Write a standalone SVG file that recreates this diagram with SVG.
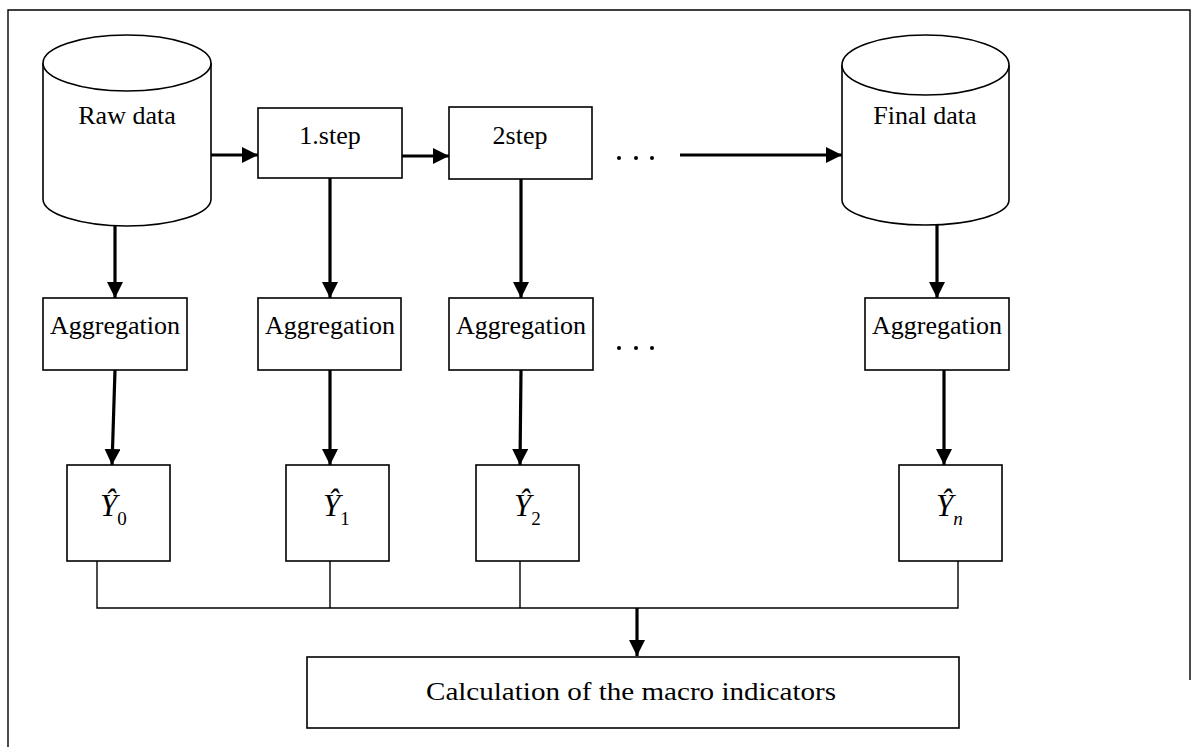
<svg xmlns="http://www.w3.org/2000/svg" width="1199" height="747" viewBox="0 0 1199 747">
<defs>
<style>
.box{fill:#fff;stroke:#000;stroke-width:1.6}
.cyl{fill:#fff;stroke:#000;stroke-width:1.6}
.t{font-family:"Liberation Serif","Times New Roman",serif;font-size:26px;fill:#000;text-anchor:middle}
.y{font-family:"Liberation Serif","Times New Roman",serif;font-size:31px;font-style:italic;fill:#000}
.arr{stroke:#000;stroke-width:3.2;fill:none;marker-end:url(#ah)}
.thin{stroke:#000;stroke-width:1.4;fill:none}
</style>
<marker id="ah" markerUnits="userSpaceOnUse" markerWidth="17" markerHeight="17" refX="16" refY="8" orient="auto">
<path d="M0,0 L16,8 L0,16 Z" fill="#000"/>
</marker>
</defs>
<rect width="1199" height="747" fill="#fff"/>
<path id="frame" d="M8,747 V10 H1190 V680" fill="none" stroke="#000" stroke-width="1.4"/>

<g id="connectors">
<line class="arr" x1="211" y1="155" x2="258" y2="155"/>
<line class="arr" x1="402" y1="156" x2="449" y2="156"/>
<line class="arr" x1="680" y1="155" x2="842" y2="155"/>
<line class="arr" x1="115" y1="226" x2="115" y2="298"/>
<line class="arr" x1="330" y1="178" x2="330" y2="298"/>
<line class="arr" x1="521" y1="179" x2="521" y2="298"/>
<line class="arr" x1="937" y1="225" x2="937" y2="298"/>
<line class="arr" x1="115" y1="370" x2="112" y2="465"/>
<line class="arr" x1="330" y1="370" x2="330" y2="465"/>
<line class="arr" x1="521" y1="370" x2="520" y2="465"/>
<line class="arr" x1="944" y1="370" x2="944" y2="465"/>
<path class="thin" d="M97,561 V608 H958 V561 M330,561 V608 M520,561 V608"/>
<line class="arr" x1="637" y1="608" x2="637" y2="656"/>
</g>

<g id="raw-data">
<path class="cyl" d="M43,63 V199 A84,27 0 0 0 211,199 V63"/>
<ellipse class="cyl" cx="127" cy="63" rx="84" ry="28"/>
<text class="t" x="127" y="124">Raw data</text>
</g>

<g id="step1">
<rect class="box" x="258" y="108" width="144" height="70"/>
<text class="t" x="330" y="144">1.step</text>
</g>

<g id="step2">
<rect class="box" x="449" y="107" width="143" height="72"/>
<text class="t" x="520" y="144">2step</text>
</g>

<g id="dots-top">
<circle cx="619" cy="158" r="2"/>
<circle cx="636" cy="158" r="2"/>
<circle cx="652" cy="158" r="2"/>
</g>

<g id="final-data">
<path class="cyl" d="M842,65 V200 A83.5,25 0 0 0 1009,200 V65"/>
<ellipse class="cyl" cx="925.5" cy="65" rx="83.5" ry="30"/>
<text class="t" x="925" y="124">Final data</text>
</g>

<g id="agg0">
<rect class="box" x="43" y="298" width="144" height="72"/>
<text class="t" x="115" y="334">Aggregation</text>
</g>
<g id="agg1">
<rect class="box" x="258" y="298" width="143" height="72"/>
<text class="t" x="330" y="334">Aggregation</text>
</g>
<g id="agg2">
<rect class="box" x="449" y="298" width="144" height="72"/>
<text class="t" x="521" y="334">Aggregation</text>
</g>
<g id="aggn">
<rect class="box" x="865" y="298" width="144" height="72"/>
<text class="t" x="937" y="334">Aggregation</text>
</g>

<g id="dots-mid">
<circle cx="619" cy="348" r="2"/>
<circle cx="636" cy="348" r="2"/>
<circle cx="652" cy="348" r="2"/>
</g>

<g id="y0">
<rect class="box" x="67" y="465" width="103" height="96"/>
<text class="y" x="100" y="516">Ŷ<tspan font-style="normal" font-size="19" dy="9">0</tspan></text>
</g>
<g id="y1">
<rect class="box" x="286" y="465" width="103" height="96"/>
<text class="y" x="323" y="516">Ŷ<tspan font-style="normal" font-size="19" dy="9">1</tspan></text>
</g>
<g id="y2">
<rect class="box" x="476" y="465" width="103" height="96"/>
<text class="y" x="514" y="516">Ŷ<tspan font-style="normal" font-size="19" dy="9">2</tspan></text>
</g>
<g id="yn">
<rect class="box" x="899" y="465" width="103" height="96"/>
<text class="y" x="936" y="516">Ŷ<tspan font-size="19" dy="9">n</tspan></text>
</g>

<g id="calc">
<rect class="box" x="307" y="657" width="652" height="71"/>
<text class="t" x="631" y="700" font-size="25" textLength="410" lengthAdjust="spacingAndGlyphs">Calculation of the macro indicators</text>
</g>
</svg>
